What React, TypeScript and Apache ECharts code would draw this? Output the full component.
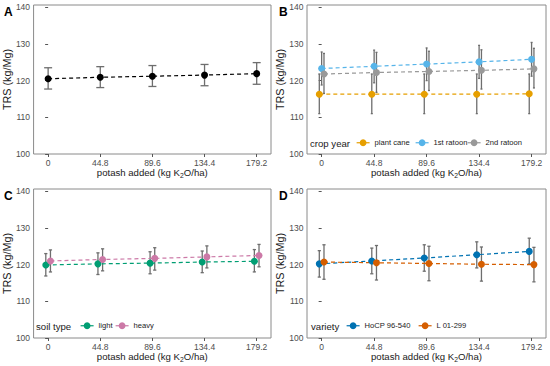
import React, { useEffect, useRef } from "react";
import * as echarts from "echarts";

const potash = [0, 44.8, 89.6, 134.4, 179.2];
const yTicks = [100, 110, 120, 130, 140];

// Panel A: overall
const overallMean = [120.5, 120.9, 121.2, 121.5, 121.9];
const overallLow = [117.7, 118.1, 118.4, 118.6, 119.0];
const overallHigh = [123.5, 123.8, 124.1, 124.4, 124.9];

// Panel B: crop year
const plantCaneMean = [116.3, 116.3, 116.3, 116.3, 116.4];
const plantCaneLow = [111.0, 111.0, 111.0, 111.0, 111.0];
const plantCaneHigh = [121.8, 121.8, 121.8, 121.8, 121.8];
const ratoon1Mean = [123.3, 123.9, 124.5, 125.1, 125.8];
const ratoon1Low = [118.8, 119.4, 120.0, 120.6, 121.2];
const ratoon1High = [127.8, 128.3, 128.9, 129.6, 130.4];
const ratoon2Mean = [121.8, 122.2, 122.5, 122.8, 123.2];
const ratoon2Low = [116.5, 116.8, 117.3, 117.7, 118.0];
const ratoon2High = [127.4, 127.7, 128.0, 128.4, 128.8];

// Panel C: soil type
const lightMean = [119.9, 120.2, 120.4, 120.7, 120.9];
const lightLow = [116.9, 117.3, 117.5, 117.8, 118.0];
const lightHigh = [123.0, 123.2, 123.5, 123.7, 124.1];
const heavyMean = [121.0, 121.4, 121.7, 122.1, 122.5];
const heavyLow = [118.0, 118.3, 118.5, 119.1, 119.4];
const heavyHigh = [124.0, 124.3, 124.6, 125.1, 125.5];

// Panel D: variety
const hocpMean = [120.2, 121.0, 121.8, 122.7, 123.6];
const hocpLow = [116.6, 117.5, 118.2, 119.1, 120.2];
const hocpHigh = [123.8, 124.5, 125.4, 126.2, 127.2];
const l01Mean = [120.7, 120.5, 120.3, 120.1, 120.0];
const l01Low = [116.0, 115.8, 115.6, 115.5, 115.3];
const l01High = [125.4, 125.2, 125.0, 124.8, 124.7];

const FONT = "'Liberation Sans', Arial, sans-serif";
const DODGE = 2;

type Group = {
  name: string;
  color: string;
  mean: number[];
  low: number[];
  high: number[];
  offset: number;
};

const grids = [
  { left: 32, top: 5, width: 239, height: 149 },
  { left: 307, top: 5, width: 239, height: 149 },
  { left: 32, top: 189, width: 239, height: 149 },
  { left: 307, top: 189, width: 239, height: 149 },
];

const panels: { letter: string; groups: Group[]; cap: number }[] = [
  {
    letter: "A",
    cap: 4,
    groups: [
      { name: "overall", color: "#000000", mean: overallMean, low: overallLow, high: overallHigh, offset: 0 },
    ],
  },
  {
    letter: "B",
    cap: 1,
    groups: [
      { name: "plant cane", color: "#E69F00", mean: plantCaneMean, low: plantCaneLow, high: plantCaneHigh, offset: -DODGE },
      { name: "1st ratoon", color: "#56B4E9", mean: ratoon1Mean, low: ratoon1Low, high: ratoon1High, offset: 0 },
      { name: "2nd ratoon", color: "#999999", mean: ratoon2Mean, low: ratoon2Low, high: ratoon2High, offset: DODGE },
    ],
  },
  {
    letter: "C",
    cap: 1.6,
    groups: [
      { name: "light", color: "#009E73", mean: lightMean, low: lightLow, high: lightHigh, offset: -DODGE },
      { name: "heavy", color: "#CC79A7", mean: heavyMean, low: heavyLow, high: heavyHigh, offset: DODGE },
    ],
  },
  {
    letter: "D",
    cap: 1.6,
    groups: [
      { name: "HoCP 96-540", color: "#0072B2", mean: hocpMean, low: hocpLow, high: hocpHigh, offset: -DODGE },
      { name: "L 01-299", color: "#D55E00", mean: l01Mean, low: l01Low, high: l01High, offset: DODGE },
    ],
  },
];

const legendTitles = [
  { text: "crop year", x: 310, y: 143 },
  { text: "soil type", x: 36, y: 326 },
  { text: "variety", x: 311, y: 326 },
];

const legendItems = [
  { name: "plant cane", left: 356, cy: 143 },
  { name: "1st ratoon", left: 415, cy: 143 },
  { name: "2nd ratoon", left: 467, cy: 143 },
  { name: "light", left: 80, cy: 326 },
  { name: "heavy", left: 115, cy: 326 },
  { name: "HoCP 96-540", left: 346, cy: 326 },
  { name: "L 01-299", left: 418, cy: 326 },
];

function buildOption() {
  const xAxis: any[] = [];
  const yAxis: any[] = [];
  const series: any[] = [];
  const graphic: any[] = [];

  panels.forEach((p, i) => {
    xAxis.push({
      type: "value",
      gridIndex: i,
      min: -12.5,
      max: 191.5,
      axisLine: { show: false },
      splitLine: { show: false },
      axisTick: { show: true, length: 3, lineStyle: { color: "#555" }, customValues: potash },
      axisLabel: {
        customValues: potash,
        formatter: (v: number) => String(v),
        fontSize: 8.5,
        color: "#4d4d4d",
        fontFamily: FONT,
        margin: 4,
      },
      name: "{a|potash added (kg K}{s|2}{a|O/ha)}",
      nameLocation: "middle",
      nameGap: 12,
      nameTextStyle: {
        rich: {
          a: { fontSize: 9.6, fontFamily: FONT, color: "#1a1a1a", lineHeight: 13, verticalAlign: "middle" },
          s: { fontSize: 6.8, fontFamily: FONT, color: "#1a1a1a", lineHeight: 8, verticalAlign: "bottom" },
        },
      },
    });
    yAxis.push({
      type: "value",
      gridIndex: i,
      min: 100,
      max: 140.6,
      axisLine: { show: false },
      splitLine: { show: false },
      axisTick: { show: true, length: 3, lineStyle: { color: "#555" }, customValues: yTicks },
      axisLabel: {
        customValues: yTicks,
        formatter: (v: number) => String(v),
        fontSize: 8.5,
        color: "#4d4d4d",
        fontFamily: FONT,
        margin: 3.5,
      },
      name: "TRS (kg/Mg)",
      nameLocation: "middle",
      nameGap: 19,
      nameTextStyle: { fontSize: 10.8, fontFamily: FONT, color: "#1a1a1a" },
    });

    p.groups.forEach((g) => {
      const pts = potash.map((x, k) => [x + g.offset, g.mean[k]]);
      const bars = potash.map((x, k) => [x + g.offset, g.low[k], g.high[k]]);
      const cap = p.cap;
      series.push({
        type: "custom",
        name: g.name + " error",
        xAxisIndex: i,
        yAxisIndex: i,
        coordinateSystem: "cartesian2d",
        encode: { x: 0, y: [1, 2] },
        z: 2,
        silent: true,
        data: bars,
        renderItem: (params: any, api: any) => {
          const x = api.value(0);
          const lo = api.value(1);
          const hi = api.value(2);
          const t = api.coord([x, hi]);
          const b = api.coord([x, lo]);
          const style = { stroke: "#6e6e6e", lineWidth: 1.3 };
          return {
            type: "group",
            children: [
              { type: "line", shape: { x1: t[0], y1: t[1], x2: b[0], y2: b[1] }, style },
              { type: "line", shape: { x1: t[0] - cap, y1: t[1], x2: t[0] + cap, y2: t[1] }, style },
              { type: "line", shape: { x1: b[0] - cap, y1: b[1], x2: b[0] + cap, y2: b[1] }, style },
            ],
          };
        },
      });
      series.push({
        type: "line",
        name: g.name,
        xAxisIndex: i,
        yAxisIndex: i,
        data: pts,
        z: 3,
        symbol: "circle",
        symbolSize: 7,
        showSymbol: true,
        itemStyle: { color: g.color, borderWidth: 0 },
        lineStyle: { color: g.color, width: 1.2, type: [4, 3] },
      });
    });

    graphic.push({
      type: "text",
      left: grids[i].left - 28,
      top: grids[i].top + 0.5,
      style: { text: p.letter, font: `bold 12px ${FONT}`, fill: "#000" },
    });
  });

  legendTitles.forEach((t) => {
    graphic.push({
      type: "text",
      x: t.x,
      y: t.y,
      style: { text: t.text, font: `9.6px ${FONT}`, fill: "#1a1a1a", textVerticalAlign: "middle" },
    });
  });

  const legend = legendItems.map((it) => ({
    data: [it.name],
    left: it.left,
    top: it.cy - 4.25,
    itemWidth: 13,
    itemHeight: 8.5,
    itemGap: 0,
    padding: 0,
    selectedMode: false,
    lineStyle: { type: "solid", width: 1.2 },
    textStyle: { fontSize: 7.6, fontFamily: FONT, color: "#1a1a1a" },
  }));

  return {
    animation: false,
    backgroundColor: "#ffffff",
    textStyle: { fontFamily: FONT },
    grid: grids.map((g) => ({ ...g, show: true, borderColor: "#8a8a8a", borderWidth: 1, backgroundColor: "transparent" })),
    xAxis,
    yAxis,
    legend,
    series,
    graphic,
  };
}

export default function App() {
  const ref = useRef<HTMLDivElement>(null);
  useEffect(() => {
    if (!ref.current) return;
    const chart = echarts.init(ref.current, undefined, { renderer: "svg" });
    chart.setOption(buildOption() as any);
    return () => chart.dispose();
  }, []);
  return (
    <div
      ref={ref}
      style={{ position: "absolute", left: 0, top: 0, width: 550, height: 366, background: "#fff" }}
    />
  );
}
